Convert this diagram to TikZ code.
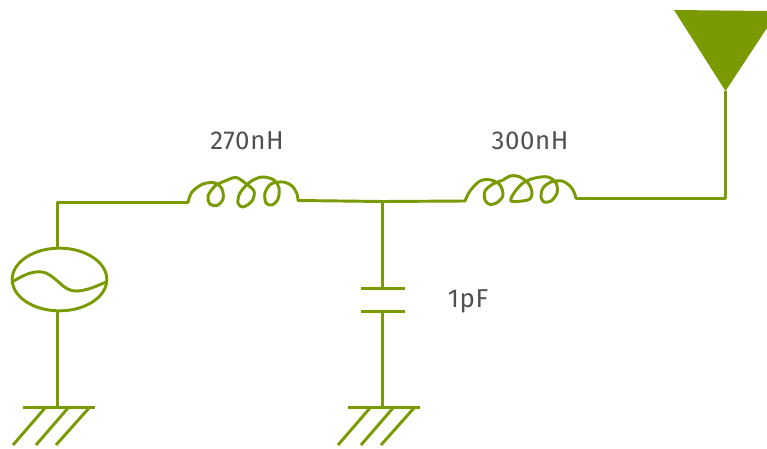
\documentclass[tikz,border=0pt]{standalone}
\usepackage{fontspec}
\setmainfont[LetterSpace=2.4]{Fira Sans}
\usetikzlibrary{shapes.geometric}
\definecolor{wire}{HTML}{7A9A01}
\definecolor{lab}{HTML}{505050}
\tikzset{
  wirepath/.style={draw=wire,line width=2.2pt,line join=round},
  coil/.style={draw=wire,line width=2.2pt,line join=round,line cap=round},
  lbl/.style={text=lab,font=\fontsize{19.4}{22}\selectfont,inner sep=0pt},
  srcshape/.style={ellipse,draw=wire,line width=2.2pt,minimum width=71pt,minimum height=47pt,inner sep=0pt}
}
\begin{document}
\begin{tikzpicture}[x=0.75pt,y=-0.75pt]
\useasboundingbox (0,0) rectangle (767,449);
% labels
\node[lbl] (l1) at (247,140.5) {270nH};
\node[lbl] (l2) at (530,140.5) {300nH};
\node[lbl] (l3) at (468,301) {1pF};
% key points
\node[srcshape] (src) at (59.5,279.5) {};
\coordinate (c1) at (57.5,202.5);
\coordinate (a1) at (188,202.5);
\coordinate (b1) at (298,200.5);
\coordinate (j) at (382.5,201.5);
\coordinate (a2) at (465,201);
\coordinate (b2) at (576,198.5);
\coordinate (c2) at (725.5,198.5);
\coordinate (ant) at (725.5,91);
\coordinate (p1) at (382.5,288.5);
\coordinate (p2) at (382.5,311.5);
\coordinate (g1) at (57.5,407.5);
\coordinate (g2) at (382.5,407.5);
% wires
\draw[wirepath] (57.5,248) -- (c1) -- (a1);
\draw[wirepath] (b1) -- (j) -- (a2);
\draw[wirepath] (b2) -- (c2) -- (ant);
\draw[wirepath] (j) -- (p1);
\draw[wirepath] (p2) -- (g2);
\draw[wirepath] (57.5,311) -- (g1);
% capacitor
\draw[wirepath] (361,288.5) -- (405,288.5);
\draw[wirepath] (361,311.5) -- (405,311.5);
% grounds
\draw[wirepath] (23,407.5) -- (95,407.5);
\draw[wirepath] (45,408) -- (13,445);
\draw[wirepath] (68,408) -- (36,445);
\draw[wirepath] (89,408) -- (56,445);
\draw[wirepath] (348,407.5) -- (420,407.5);
\draw[wirepath] (370,408) -- (338,445);
\draw[wirepath] (393,408) -- (361,445);
\draw[wirepath] (414,408) -- (381,445);
% inductors
\draw[coil] plot[smooth,tension=0.55] coordinates {(188,202.5) (192,192) (203,184) (215,183) (222,189) (223,199) (217,205.5) (210,204) (208,196) (215,186) (225,181) (236,177.5) (245,183) (254,191) (252,201) (243,207) (238,203) (240,193) (250,182) (262,177) (274,180) (279,188) (278,199) (272,205) (266,203) (265,193) (271,184) (283,182) (292,186) (297,194) (298,200.5)};
\draw[coil] plot[smooth,tension=0.55] coordinates {(465,201) (470,191) (480,181) (491,180) (500,185) (503,195) (498,202) (490,204.5) (485,200) (485,191) (493,184) (503,180) (510,176) (519,176.5) (528,183) (532,192) (530,199) (522,201) (511,201) (514,193) (523,183) (535,178) (548,177) (556,183) (557,193) (551,201) (544,202) (541,197) (543,188) (551,182) (562,181) (570,186) (574,192) (576,198.5)};
% antenna
\fill[wire] (674,10) -- (767,11) -- (767,28) -- (ant) -- cycle;
% source wave
\draw[coil] plot[smooth,tension=0.6] coordinates {(12,282) (24,275.5) (35,272) (46,273) (55,279) (66,288) (76,291) (90,288.5) (106,282)};
\end{tikzpicture}
\end{document}
